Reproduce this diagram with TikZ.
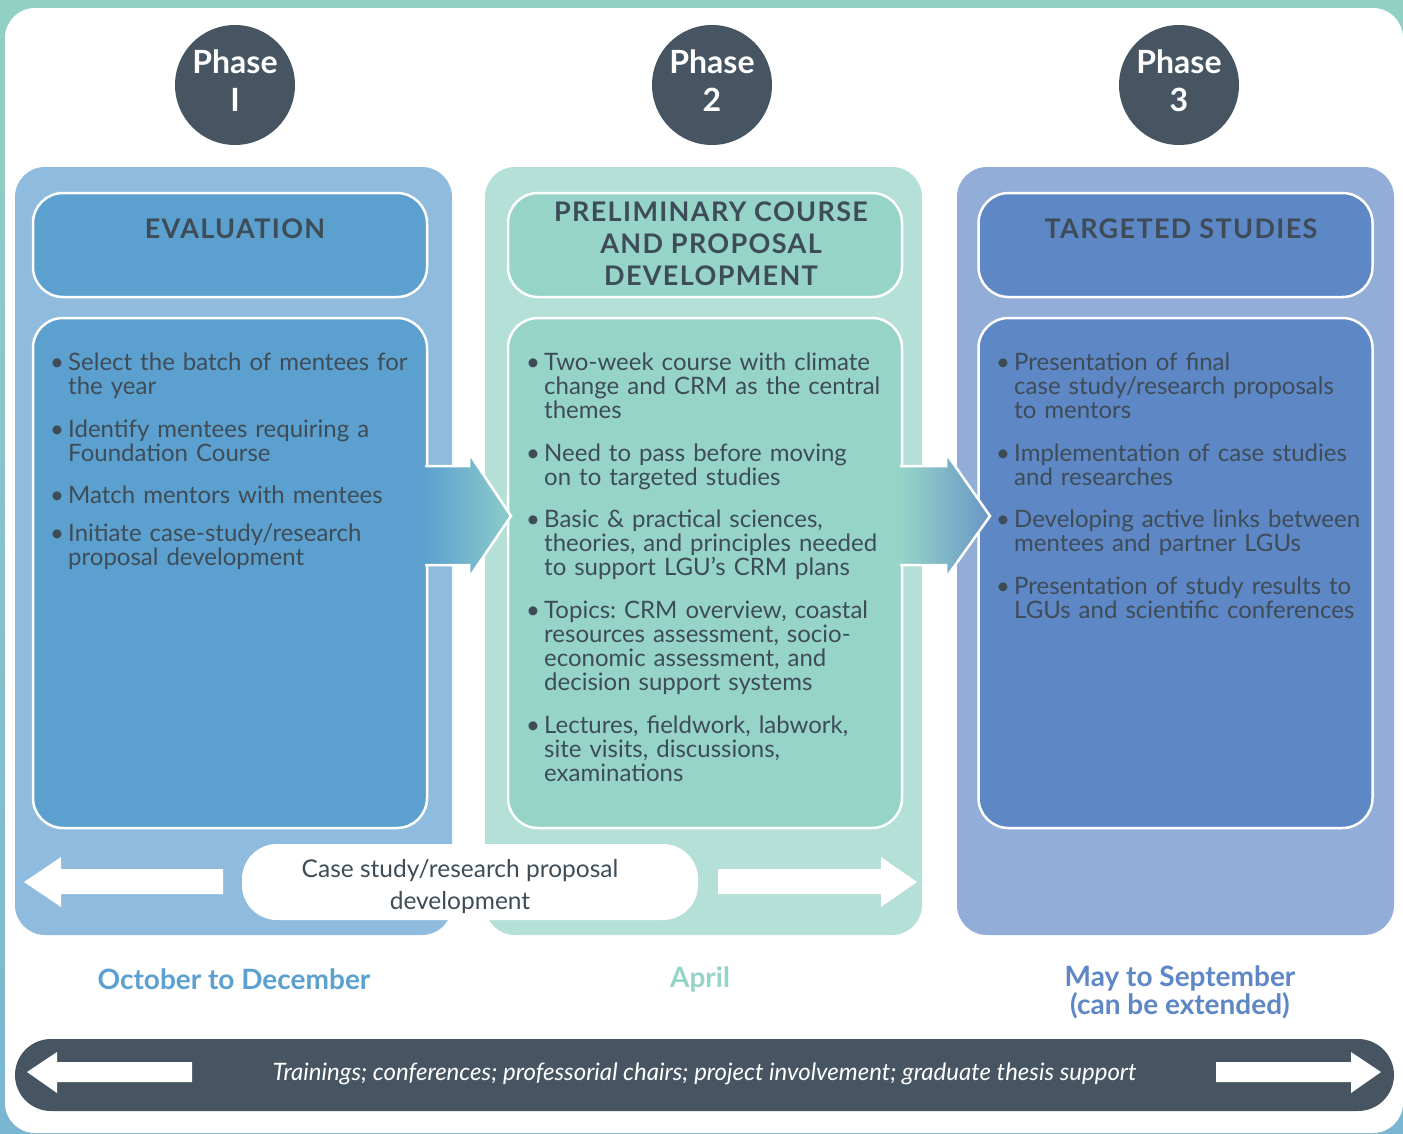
\documentclass[tikz,border=0pt]{standalone}
\usepackage{fontspec}
\setmainfont{Lato}
\newfontfamily\headfont[LetterSpace=5]{Lato}
\definecolor{dark}{HTML}{465561}
\definecolor{ink}{HTML}{3E4C58}
\definecolor{frameTeal}{HTML}{92D0C4}
\definecolor{frameBlue}{HTML}{7AB6D2}
\definecolor{pAout}{HTML}{8FBBDE}
\definecolor{pAin}{HTML}{5CA0CF}
\definecolor{pBout}{HTML}{B5E0D7}
\definecolor{pBin}{HTML}{96D4C8}
\definecolor{pCout}{HTML}{91ADD8}
\definecolor{pCin}{HTML}{5E87C5}
\tikzset{
  panel/.style={rounded corners=30pt, minimum width=437pt, minimum height=768pt, inner sep=0pt},
  box/.style={draw=white, line width=2.5pt, rounded corners=30pt, minimum width=394pt, inner sep=0pt},
  phase/.style={circle, fill=dark, minimum size=120pt, inner sep=0pt},
  phasetext/.style={text=white, align=center, font=\bfseries\fontsize{32}{38}\selectfont},
  head/.style={text=ink, align=center, font=\headfont\bfseries\fontsize{27}{32}\selectfont},
  body/.style={text=ink, anchor=north west, inner sep=0pt, text width=420pt, align=left,
    font=\fontsize{24}{24}\selectfont},
  date/.style={align=center, font=\bfseries\fontsize{28}{26}\selectfont},
  whitearrow/.style={fill=white},
}
% bullet and hanging indent for list lines; fixed line pitch
\newcommand{\itm}{\makebox[18pt][l]{\textbullet}}
\newcommand{\cnt}{\hspace*{18pt}}
\newcommand{\fixedpitch}{\setlength{\lineskiplimit}{-100pt}\hyphenpenalty=10000 \frenchspacing}
\begin{document}
\begin{tikzpicture}[x=1pt,y=-1pt]
\useasboundingbox (0,0) rectangle (1403,1133);
% frame
\shade[top color=frameTeal, bottom color=frameBlue] (0,0) rectangle (1403,1133);
\fill[white, rounded corners=30pt] (5,8) rectangle (1403,1133);

% phase markers
\node[phase] (ph1) at (235,85) {};
\node[phase] (ph2) at (712,85) {};
\node[phase] (ph3) at (1179,85) {};
\node[phasetext] (pt1) at (235,81) {Phase\\I};
\node[phasetext] (pt2) at (712,81) {Phase\\2};
\node[phasetext] (pt3) at (1179,81) {Phase\\3};

% outer panels
\node[panel, fill=pAout] (pa) at (233.5,551) {};
\node[panel, fill=pBout] (pb) at (703.5,551) {};
\node[panel, fill=pCout] (pc) at (1175.5,551) {};

% header boxes
\node[box, fill=pAin, minimum height=104pt] (ha) at (230,245) {};
\node[box, fill=pBin, minimum height=104pt] (hb) at (705,245) {};
\node[box, fill=pCin, minimum height=104pt] (hc) at (1175.5,245) {};
\node[head] (hta) at (235,229) {EVALUATION};
\node[head] (htb) at (711,244) {PRELIMINARY COURSE\\AND PROPOSAL\\DEVELOPMENT};
\node[head] (htc) at (1181,229) {TARGETED STUDIES};

% body boxes
\node[box, fill=pAin, minimum height=510pt] (ba) at (230,573) {};
\node[box, fill=pBin, minimum height=510pt] (bb) at (705,573) {};
\node[box, fill=pCin, minimum height=510pt] (bc) at (1175.5,573) {};

% block arrows between phases
\shade[left color=pAin, right color=pBin!85!pAin]
  (425,466) -- (469,466) -- (469,453) -- (511,516) -- (469,578) -- (469,565) -- (425,565) -- cycle;
\draw[white, line width=2.5pt, line join=miter]
  (425,466) -- (469,466) -- (469,453) -- (511,516) -- (469,578) -- (469,565) -- (425,565);
\shade[left color=pBin, right color=pCin!80!pBin]
  (900,466) -- (946,466) -- (946,453) -- (990,516) -- (946,578) -- (946,565) -- (900,565) -- cycle;
\draw[white, line width=2.5pt, line join=miter]
  (900,466) -- (946,466) -- (946,453) -- (990,516) -- (946,578) -- (946,565) -- (900,565);

% bullet lists
\node[body] (la) at (50,353) {\fixedpitch
\itm Select the batch of mentees for\\ \cnt the year\\[19pt]
\itm Identify mentees requiring a\\ \cnt Foundation Course\\[18pt]
\itm Match mentors with mentees\\[14pt]
\itm Initiate case-study/research\\ \cnt proposal development};
\node[body] (lb) at (526,353) {\fixedpitch
\itm Two-week course with climate\\ \cnt change and CRM as the central\\ \cnt themes\\[19pt]
\itm Need to pass before moving\\ \cnt on to targeted studies\\[18pt]
\itm Basic \& practical sciences,\\ \cnt theories, and principles needed\\ \cnt to support LGU’s CRM plans\\[19pt]
\itm Topics: CRM overview, coastal\\ \cnt resources assessment, socio-\\ \cnt economic assessment, and\\ \cnt decision support systems\\[19pt]
\itm Lectures, fieldwork, labwork,\\ \cnt site visits, discussions,\\ \cnt examinations};
\node[body] (lc) at (996,353) {\fixedpitch
\itm Presentation of final\\ \cnt case study/research proposals\\ \cnt to mentors\\[19pt]
\itm Implementation of case studies\\ \cnt and researches\\[18pt]
\itm Developing active links between\\ \cnt mentees and partner LGUs\\[19pt]
\itm Presentation of study results to\\ \cnt LGUs and scientific conferences};

% proposal development strip
\node[fill=white, rounded corners=35pt, minimum width=456pt, minimum height=76pt, inner sep=0pt]
  (pill) at (470,882) {};
\node[text=ink, align=center, font=\fontsize{24.5}{32}\selectfont] (pilltext) at (460,887)
  {Case study/research proposal\\development};
\fill[whitearrow] (223,869) -- (61,869) -- (61,857) -- (24,882) -- (61,907) -- (61,894) -- (223,894) -- cycle;
\fill[whitearrow] (718,869) -- (881,869) -- (881,857) -- (917,882) -- (881,907) -- (881,894) -- (718,894) -- cycle;

% periods
\node[date, text=pAin] (da) at (234,979) {October to December};
\node[date, text=pBin] (db) at (700,979) {April};
\node[date, text=pCin] (dc) at (1180,992) {May to September\\(can be extended)};

% ongoing activities bar
\node[fill=dark, rounded corners=36pt, minimum width=1379pt, minimum height=72pt, inner sep=0pt]
  (bar) at (704.5,1075) {};
\node[text=white, font=\itshape\fontsize{24}{24}\selectfont] (bartext) at (704.5,1074)
  {Trainings; conferences; professorial chairs; project involvement; graduate thesis support};
\fill[whitearrow] (192,1062) -- (57,1062) -- (57,1052) -- (27,1072) -- (57,1093) -- (57,1082) -- (192,1082) -- cycle;
\fill[whitearrow] (1216,1062) -- (1351,1062) -- (1351,1052) -- (1381,1072) -- (1351,1093) -- (1351,1082) -- (1216,1082) -- cycle;
\end{tikzpicture}
\end{document}
